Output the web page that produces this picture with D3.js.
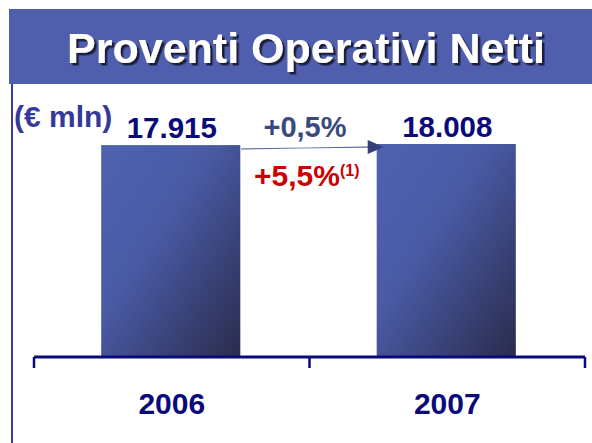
<!DOCTYPE html>
<html><head><meta charset="utf-8">
<script src="https://cdn.jsdelivr.net/npm/d3@7"></script>
<style>html,body{margin:0;padding:0;background:#fff}svg{display:block}</style>
</head><body>
<script>
const title = "Proventi Operativi Netti";
const unitLabel = "(€ mln)";
const categories = ["2006", "2007"];
const values = [17915, 18008];
const valueLabels = ["17.915", "18.008"];
const growthLabel = "+0,5%";
const growthLabel2 = "+5,5%";
const noteMark = "(1)";

const W = 592, H = 443;
const FONT = "'Liberation Sans', Arial, sans-serif";
const svg = d3.select("body").append("svg").attr("width", W).attr("height", H);
const defs = svg.append("defs");

const g1 = defs.append("linearGradient").attr("id","barGrad").attr("x1","0").attr("y1","0").attr("x2","1").attr("y2","1");
g1.append("stop").attr("offset","0").attr("stop-color","#4F62B0");
g1.append("stop").attr("offset","0.4").attr("stop-color","#4A5BA6");
g1.append("stop").attr("offset","1").attr("stop-color","#2A2C4C");

const g2 = defs.append("linearGradient").attr("id","arrowGrad").attr("x1","0").attr("y1","0").attr("x2","1").attr("y2","0");
g2.append("stop").attr("offset","0").attr("stop-color","#3A4A80");
g2.append("stop").attr("offset","0.5").attr("stop-color","#7A88B8");
g2.append("stop").attr("offset","1").attr("stop-color","#2F3A6E");

const sh = defs.append("filter").attr("id","shadow").attr("x","-5%").attr("y","-20%").attr("width","110%").attr("height","140%");
sh.append("feDropShadow").attr("dx",2.5).attr("dy",2.5).attr("stdDeviation",0.3).attr("flood-color","#1a1a3a").attr("flood-opacity",1);

// banner
svg.append("rect").attr("x",9).attr("y",9).attr("width",W-9).attr("height",75).attr("fill","#4F5FAD");
svg.append("text").attr("x",306).attr("y",63).attr("text-anchor","middle")
  .attr("font-family",FONT).attr("font-weight","bold")
  .attr("font-size",43).attr("fill","#fff").attr("filter","url(#shadow)").text(title);

// left vertical line
svg.append("line").attr("x1",12).attr("x2",12).attr("y1",84).attr("y2",H).attr("stroke","#3C3C9C").attr("stroke-width",2);

const axisY = 357;
const x = d3.scaleBand().domain(categories).range([34, 585]).padding(0);
const y = d3.scaleLinear().domain([0, 18008]).range([axisY, 144]);
const barW = x.bandwidth() * 0.505;

svg.selectAll("rect.bar").data(values).join("rect").attr("class","bar")
  .attr("x",(d,i)=>x(categories[i]) + x.bandwidth()/2 - barW/2 - 1)
  .attr("y",d=>y(d)).attr("width",barW).attr("height",d=>axisY - y(d))
  .attr("fill","url(#barGrad)");

// axis
const axisG = svg.append("g");
axisG.append("line").attr("x1",34).attr("x2",585).attr("y1",axisY).attr("y2",axisY).attr("stroke","#0A0A7A").attr("stroke-width",3);
const tickXs = [x(categories[0]), x(categories[1]), x(categories[1]) + x.bandwidth()];
axisG.selectAll("line.tick").data(tickXs).join("line").attr("class","tick")
  .attr("x1",d=>d).attr("x2",d=>d).attr("y1",axisY).attr("y2",368).attr("stroke","#0A0A7A").attr("stroke-width",2.5);
axisG.selectAll("text.cat").data(categories).join("text").attr("class","cat")
  .attr("x",d=>x(d)+x.bandwidth()/2).attr("y",414).attr("text-anchor","middle")
  .attr("font-family",FONT).attr("font-weight","bold").attr("font-size",30)
  .attr("fill","#0A0A7A").text(d=>d);

// value labels
svg.selectAll("text.val").data(valueLabels).join("text").attr("class","val")
  .attr("x",(d,i)=>x(categories[i])+x.bandwidth()/2).attr("y",(d,i)=>y(values[i]) - 7).attr("text-anchor","middle")
  .attr("font-family",FONT).attr("font-weight","bold").attr("font-size",29.5)
  .attr("fill","#0A0A7A").text(d=>d);

// unit label
svg.append("text").attr("x",14).attr("y",127)
  .attr("font-family",FONT).attr("font-weight","bold").attr("font-size",30)
  .attr("fill","#35399A").text(unitLabel);

// arrow
const ax1 = x(categories[0]) + x.bandwidth()/2 + barW/2, ax2 = x(categories[1]) + x.bandwidth()/2 - barW/2 + 6;
svg.append("path").attr("d",`M${ax1},149.5 L${ax2-14},147.5 L${ax2-14},146.5 L${ax1},148.5 Z`).attr("fill","url(#arrowGrad)");
svg.append("path").attr("d",`M${ax2-16},140 L${ax2},147 L${ax2-16},154 Z`).attr("fill","#34407A");

svg.append("text").attr("x",305).attr("y",137).attr("text-anchor","middle")
  .attr("font-family",FONT).attr("font-weight","bold").attr("font-size",29)
  .attr("fill","#3A4A7E").text(growthLabel);

const t2 = svg.append("text").attr("x",254).attr("y",186)
  .attr("font-family",FONT).attr("font-weight","bold").attr("font-size",30)
  .attr("fill","#CC0000");
t2.append("tspan").text(growthLabel2);
t2.append("tspan").attr("font-size",16).attr("dy",-10).attr("dx",0).text(noteMark);
</script>
</body></html>
